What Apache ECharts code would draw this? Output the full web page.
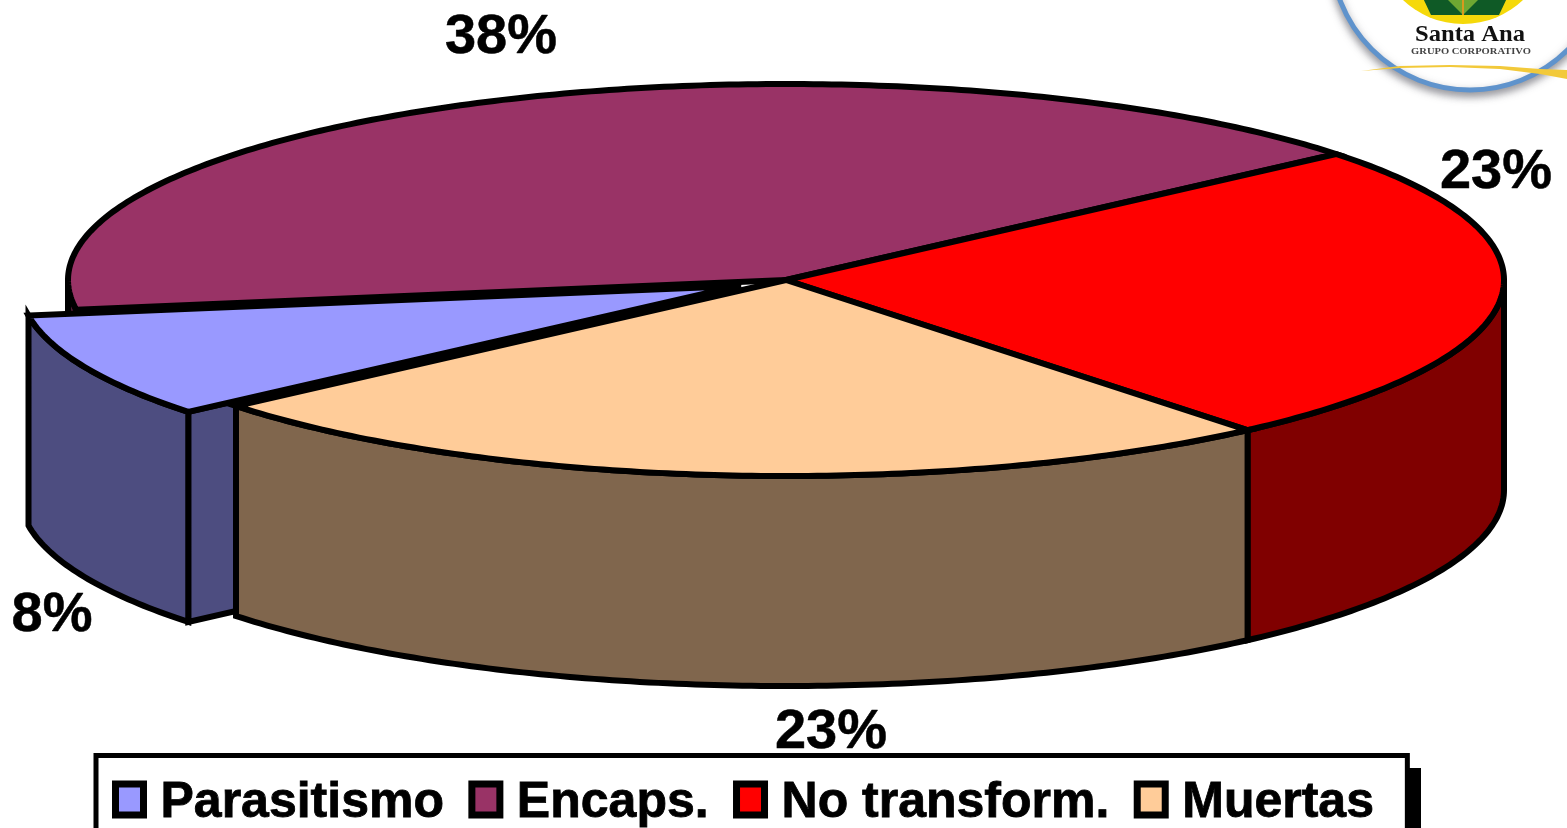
<!DOCTYPE html>
<html>
<head>
<meta charset="utf-8">
<style>
  html, body { margin: 0; padding: 0; background: #fff; }
  #chart { width: 1567px; height: 828px; }
</style>
<script src="https://cdn.jsdelivr.net/npm/echarts@6/dist/echarts.min.js"></script>
</head>
<body>
<div id="chart"></div>
<script>
// Slice data
const categories = ['Parasitismo', 'Encaps.', 'No transform.', 'Muertas'];
const percentValues = [8, 38, 23, 23];
const topColors = ['#9999FF', '#993366', '#FF0000', '#FFCC99'];
const wallColors = ['#4D4D80', '#4D1933', '#800000', '#80664D'];
const exploded = [0.073, 0, 0, 0];
const stackOrder = [3, 1, 2, 4];

// Pie projection: a flattened disc with a vertical rim
const pie = { cx: 786, cy: 280, rx: 718, ry: 196, depth: 210 };
const outline = 6;

// Angle (degrees, counter-clockwise from east) at which each slice begins;
// the slices are swept clockwise from the far side of the blue wedge round.
const total = percentValues.reduce((a, b) => a + b, 0);
const firstSliceStart = 188.7;
const sweeps = percentValues.map(v => v / total * 360);
// Encaps. ends where Parasitismo starts, and the rest run on around the disc.
const angleRanges = [
  [firstSliceStart, firstSliceStart + sweeps[0]],
  [firstSliceStart - sweeps[1], firstSliceStart],
  [firstSliceStart - sweeps[1] - sweeps[2], firstSliceStart - sweeps[1]],
  [firstSliceStart + sweeps[0], firstSliceStart + sweeps[0] + sweeps[3]]
];
const labelCenters = [[52, 616], [501, 38], [1496, 173], [831, 733]];

const rad = d => d * Math.PI / 180;

function rimPoint(angle, ox, oy, drop) {
  return [
    pie.cx + ox + pie.rx * Math.cos(rad(angle)),
    pie.cy + oy - pie.ry * Math.sin(rad(angle)) + drop
  ];
}

function arc(from, to, ox, oy, drop) {
  const steps = Math.max(2, Math.ceil(Math.abs(to - from) / 0.75));
  const pts = [];
  for (let i = 0; i <= steps; i++) {
    pts.push(rimPoint(from + (to - from) * i / steps, ox, oy, drop));
  }
  return pts;
}

// Parts of [a0, a1] that face the viewer (lower half of the disc)
function frontRanges(a0, a1) {
  const out = [];
  for (const k of [-360, 0, 360]) {
    const lo = Math.max(a0, 180 + k);
    const hi = Math.min(a1, 360 + k);
    if (hi > lo) out.push([lo, hi]);
  }
  return out;
}

function poly(points, fill, z2) {
  return {
    type: 'polygon',
    z2: z2,
    shape: { points: points },
    style: { fill: fill, stroke: '#000', lineWidth: outline, lineJoin: 'miter', miterLimit: 4 }
  };
}

function renderSlice(index) {
  return function (params, api) {
    const value = api.value(0);
    const [a0, a1] = angleRanges[index];
    const mid = (a0 + a1) / 2;
    const ox = exploded[index] * pie.rx * Math.cos(rad(mid));
    const oy = -exploded[index] * pie.ry * Math.sin(rad(mid));
    const apex = [pie.cx + ox, pie.cy + oy];
    const children = [];

    // Cut face on the east side of a pulled-out wedge
    if (exploded[index] > 0) {
      const edge = rimPoint(a1, ox, oy, 0);
      children.push(poly([
        edge, apex, [apex[0], apex[1] + pie.depth], [edge[0], edge[1] + pie.depth]
      ], wallColors[index], 1));
    }
    // Outer rim
    frontRanges(a0, a1).forEach(([lo, hi]) => {
      const top = arc(lo, hi, ox, oy, 0);
      const bottom = arc(hi, lo, ox, oy, pie.depth);
      children.push(poly(top.concat(bottom), wallColors[index], 2));
    });
    // Top face
    children.push(poly([apex].concat(arc(a0, a1, ox, oy, 0)), topColors[index], 3));
    // Value label
    children.push({
      type: 'text',
      z2: 10,
      x: labelCenters[index][0],
      y: labelCenters[index][1],
      style: {
        text: value + '%',
        fill: '#000',
        stroke: '#000',
        lineWidth: 0.5,
        font: 'bold 56px "Liberation Sans"',
        align: 'center',
        verticalAlign: 'middle'
      }
    });
    return { type: 'group', children: children };
  };
}

const series = categories.map((name, i) => ({
  type: 'custom',
  name: name,
  coordinateSystem: 'none',
  z: stackOrder[i] + 2,
  silent: true,
  itemStyle: { color: topColors[i] },
  encode: { value: 0 },
  data: [[percentValues[i]]],
  renderItem: renderSlice(i)
}));

// Company badge in the top-right corner
const logo = [
  { type: 'circle', z: 1, shape: { cx: 1470, cy: -49, r: 139 },
    style: { fill: '#fff', stroke: '#5F93CC', lineWidth: 5,
             shadowColor: 'rgba(70,70,80,0.55)', shadowBlur: 9, shadowOffsetY: 4 } },
  { type: 'circle', z: 1, shape: { cx: 1463, cy: -63, r: 87 },
    style: { fill: '#F5D90A' } },
  { type: 'polygon', z: 1, shape: { points: [[1422, -4], [1431, 15], [1499, 15], [1508, -4]] },
    style: { fill: '#0F5A26' } },
  { type: 'polygon', z: 1, shape: { points: [[1463, 15], [1444, -4], [1482, -4]] },
    style: { fill: '#6FA832' } },
  { type: 'line', z: 1, shape: { x1: 1463, y1: 15, x2: 1463, y2: -4 },
    style: { stroke: '#D89A1E', lineWidth: 2 } },
  { type: 'text', z: 1, x: 1470, y: 35, scaleX: 1.07,
    style: { text: 'Santa Ana', fill: '#111', align: 'center', verticalAlign: 'middle',
             font: 'bold 23px "Liberation Serif"' } },
  { type: 'text', z: 1, x: 1471, y: 51.5, scaleX: 1.17,
    style: { text: 'GRUPO CORPORATIVO', fill: '#444', align: 'center', verticalAlign: 'middle',
             font: 'bold 9px "Liberation Serif"' } },
  { type: 'polygon', z: 1,
    shape: { points: [[1361, 71], [1400, 66], [1450, 65], [1500, 66], [1540, 69], [1567, 70], [1567, 79], [1540, 74], [1500, 69], [1450, 67], [1400, 68]] },
    style: { fill: '#F2C93A' } },
  // Drop shadow on the legend frame's right side
  { type: 'rect', z: 1, shape: { x: 1400, y: 768, width: 21, height: 70 },
    style: { fill: '#000' } }
];

const chart = echarts.init(document.getElementById('chart'), null, { renderer: 'canvas' });
chart.setOption({
  animation: false,
  backgroundColor: '#fff',
  graphic: { elements: logo },
  legend: {
    left: 96,
    top: 755.5,
    orient: 'horizontal',
    // Square swatch riding high in its cell, level with the text's capitals
    icon: 'path://M0 0H28V31H0Z M0 38L0 38',
    itemWidth: 28,
    itemHeight: 38,
    itemGap: 24,
    selectedMode: false,
    backgroundColor: '#fff',
    borderColor: '#000',
    borderWidth: 5,
    padding: [22, 33, 70, 16],
    itemStyle: { borderColor: '#000', borderWidth: 7 },
    textStyle: {
      color: '#000', fontFamily: 'Liberation Sans', fontWeight: 'bold', fontSize: 50,
      textBorderColor: '#000', textBorderWidth: 0.8,
      padding: [0, 0, 0, 12]
    },
    data: categories
  },
  series: series
});
</script>
</body>
</html>
